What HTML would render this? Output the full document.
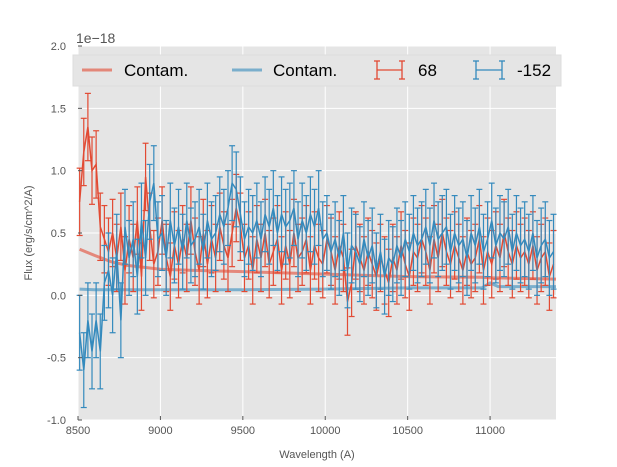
<!DOCTYPE html>
<html><head><meta charset="utf-8"><style>
body{margin:0;background:#fff;}
svg{display:block;font-family:"Liberation Sans",sans-serif;}
</style></head><body>
<svg id="chart" width="617" height="467" viewBox="0 0 617 467" xmlns="http://www.w3.org/2000/svg">
<rect x="78" y="46" width="478" height="374" fill="#E5E5E5"/>
<g id="grid"></g>
<g id="series"></g>
<g id="axes"></g>
<text x="76" y="43" font-size="14" fill="#555">1e−18</text>
<text x="317" y="458" font-size="11" fill="#555" text-anchor="middle">Wavelength (A)</text>
<text transform="translate(32,233) rotate(-90)" font-size="11" fill="#555" text-anchor="middle">Flux (erg/s/cm^2/A)</text>
<g>
<rect x="73" y="55" width="488" height="31" fill="#E5E5E5" stroke="#ddd"/>
<line x1="82" y1="70" x2="112" y2="70" stroke="#E24A33" stroke-width="3" opacity="0.6"/>
<text x="124" y="76" font-size="17">Contam.</text>
<line x1="232" y1="70" x2="262" y2="70" stroke="#348ABD" stroke-width="3" opacity="0.6"/>
<text x="273" y="76" font-size="17">Contam.</text>
<g stroke="#E24A33" stroke-width="1.3"><line x1="377" y1="70" x2="402" y2="70"/><line x1="377" y1="61" x2="377" y2="79"/><line x1="402" y1="61" x2="402" y2="79"/><line x1="374" y1="61" x2="380" y2="61"/><line x1="399" y1="61" x2="405" y2="61"/><line x1="374" y1="79" x2="380" y2="79"/><line x1="399" y1="79" x2="405" y2="79"/></g>
<text x="418" y="76" font-size="17">68</text>
<g stroke="#348ABD" stroke-width="1.3"><line x1="476" y1="70" x2="502" y2="70"/><line x1="476" y1="61" x2="476" y2="79"/><line x1="502" y1="61" x2="502" y2="79"/><line x1="473" y1="61" x2="479" y2="61"/><line x1="499" y1="61" x2="505" y2="61"/><line x1="473" y1="79" x2="479" y2="79"/><line x1="499" y1="79" x2="505" y2="79"/></g>
<text x="517" y="76" font-size="17">-152</text>
</g>
</svg>
<script>
const xTicks=[8500,9000,9500,10000,10500,11000];
const yTicks=[-1.0,-0.5,0.0,0.5,1.0,1.5,2.0];
const wave0=8510, waveStep=25;
const redFlux=[0.75,1.15,1.35,1.0,1.05,0.55,0.45,0.35,0.5,0.3,0.55,0.2,
0.45,0.3,0.6,0.15,0.95,0.55,0.25,0.35,0.6,0.3,0.15,0.4,
0.25,0.45,0.3,0.6,0.35,0.2,0.5,0.25,0.45,0.3,0.55,0.4,
0.3,0.5,0.7,0.55,0.3,0.4,0.2,0.45,0.3,0.5,0.25,0.35,
0.45,0.2,0.4,0.25,0.5,0.3,0.35,0.45,0.2,0.4,0.3,0.25,
0.45,0.35,0.2,0.4,0.3,-0.05,0.1,0.4,0.3,0.2,0.35,0.25,
0.15,0.3,0.2,0.1,0.3,0.2,0.4,0.25,0.15,0.35,0.3,0.45,
0.35,0.2,0.45,0.3,0.5,0.35,0.25,0.4,0.3,0.2,0.35,0.25,
0.3,0.45,0.2,0.35,0.25,0.4,0.3,0.5,0.35,0.25,0.4,0.3,
0.35,0.25,0.4,0.2,0.3,0.35,0.15,0.25];
const blueFlux=[-0.3,-0.6,-0.2,-0.45,-0.2,-0.45,0.1,0.2,0.0,0.35,-0.2,0.55,
0.3,0.45,0.15,0.6,0.3,0.75,0.9,0.45,0.5,0.3,0.6,0.4,
0.55,0.35,0.6,0.4,0.45,0.55,0.35,0.6,0.45,0.5,0.65,0.55,
0.7,0.9,0.85,0.65,0.45,0.55,0.5,0.6,0.45,0.65,0.55,0.7,
0.5,0.65,0.55,0.6,0.7,0.45,0.6,0.5,0.65,0.55,0.7,0.45,
0.5,0.35,0.45,0.3,0.5,0.2,0.4,0.35,0.25,0.45,0.3,0.4,
0.2,0.35,0.15,0.3,0.25,0.4,0.3,0.45,0.35,0.5,0.4,0.45,
0.55,0.4,0.6,0.45,0.5,0.55,0.35,0.5,0.4,0.45,0.3,0.5,
0.4,0.55,0.35,0.45,0.6,0.4,0.5,0.45,0.55,0.35,0.5,0.4,
0.45,0.35,0.5,0.3,0.4,0.45,0.3,0.35];
const redErr=0.27, blueErr=0.3;
const contamWave=[8510,8600,8700,8800,9000,9200,9500,10000,10500,10950,11000,11050,11400];
const contamRed=[0.37,0.32,0.27,0.24,0.21,0.2,0.19,0.17,0.15,0.145,0.14,0.14,0.13];
const contamBlue=[0.05,0.045,0.045,0.045,0.045,0.045,0.045,0.05,0.06,0.06,0.1,0.07,0.07];

const NS="http://www.w3.org/2000/svg";
const X0=78,X1=556,Y0=420,Y1=46;
function xs(w){return X0+(w-8500)/(11400-8500)*(X1-X0);}
function ys(v){return Y0-(v+1)/3*(Y0-Y1);}
function mk(tag,attrs,parent){const e=document.createElementNS(NS,tag);for(const k in attrs)e.setAttribute(k,attrs[k]);parent.appendChild(e);return e;}
const grid=document.getElementById('grid'),axes=document.getElementById('axes'),series=document.getElementById('series');
xTicks.forEach(t=>{const x=xs(t);
 const g=mk('line',{x1:x,x2:x,y1:Y1,y2:Y0,stroke:'#fff','stroke-width':1},grid);
 
 
 mk('line',{x1:x,x2:x,y1:Y0,y2:Y0-4,stroke:'#555'},axes);
 const l=mk('text',{x:x,y:Y0+14,'font-size':11,fill:'#555','text-anchor':'middle'},axes);l.textContent=t;
 
 
});
yTicks.forEach(t=>{const y=ys(t);
 const g=mk('line',{x1:X0,x2:X1,y1:y,y2:y,stroke:'#fff','stroke-width':1},grid);
 
 
 mk('line',{x1:X0,x2:X0+4,y1:y,y2:y,stroke:'#555'},axes);
 const l=mk('text',{x:X0-12,y:y+4,'font-size':11,fill:'#555','text-anchor':'end'},axes);l.textContent=t.toFixed(1);
 
 
});
function contam(arr,color,name){
 const d=arr.map((v,i)=>(i?'L':'M')+xs(contamWave[i]).toFixed(1)+','+ys(v).toFixed(1)).join('');
 const p=mk('path',{d:d,fill:'none',stroke:color,'stroke-width':3,opacity:0.6},series);
 
 
}
function errSeries(arr,err,color,name){
 const g=mk('g',{stroke:color,'stroke-width':1.2,fill:'none'},series);
 
 
 let d='';
 arr.forEach((v,i)=>{const x=xs(wave0+i*waveStep),yt=ys(v+err),yb=ys(v-err);
  mk('line',{x1:x,x2:x,y1:yt,y2:yb},g);
  mk('line',{x1:x-3,x2:x+3,y1:yt,y2:yt},g);
  mk('line',{x1:x-3,x2:x+3,y1:yb,y2:yb},g);
  d+=(i?'L':'M')+x.toFixed(1)+','+ys(v).toFixed(1);});
 mk('path',{d:d,'stroke-width':1.5},g);
}
contam(contamRed,'#E24A33','red-contam-line');
contam(contamBlue,'#348ABD','blue-contam-line');
errSeries(redFlux,redErr,'#E24A33','series-68');
errSeries(blueFlux,blueErr,'#348ABD','series-152');
</script>
</body></html>
